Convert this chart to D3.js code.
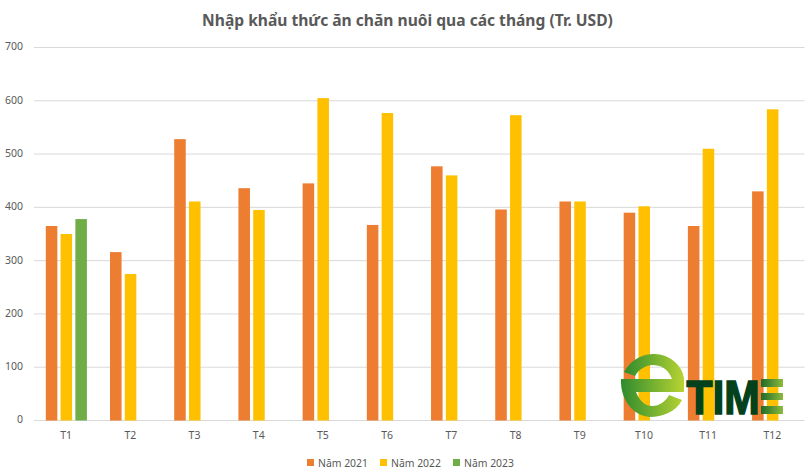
<!DOCTYPE html>
<html><head><meta charset="utf-8">
<script src="https://cdn.jsdelivr.net/npm/d3@7/dist/d3.min.js"></script>
<style>html,body{margin:0;padding:0;background:#fff}svg{display:block}text{font-family:"Noto Sans",sans-serif}</style>
</head><body><svg id="c" width="812" height="475"></svg>
<script>
const categories=["T1","T2","T3","T4","T5","T6","T7","T8","T9","T10","T11","T12"];
const seriesNames=["Năm 2021","Năm 2022","Năm 2023"];
const y2021=[365,316,528,436,445,367,477,396,411,390,365,430];
const y2022=[350,275,411,395,605,577,460,573,411,402,510,584];
const y2023=[378,null,null,null,null,null,null,null,null,null,null,null];
const colors=["#ED7D31","#FFC000","#70AD47"];
const yTicks=[0,100,200,300,400,500,600,700];
const title="Nhập khẩu thức ăn chăn nuôi qua các tháng (Tr. USD)";

const svg=d3.select("#c");
const x=d3.scaleBand().domain(categories).range([34,804.5]).paddingInner(0).paddingOuter(0);
const y=d3.scaleLinear().domain([0,700]).range([420.5,47.5]);
const inner=d3.scaleBand().domain(seriesNames).range([11.8,x.bandwidth()-11.3]).paddingInner(0.22).paddingOuter(0);

svg.append("text").attr("x",407.5).attr("y",26).attr("text-anchor","middle")
 .attr("font-size",15.6).attr("font-weight",700).attr("fill","#595959").text(title);

const yAxis=d3.axisLeft(y).tickValues(yTicks).tickSize(0).tickPadding(0);
const gy=svg.append("g").attr("transform","translate(23,-1)").call(yAxis);
gy.select(".domain").remove();
gy.selectAll("text").attr("font-size",10.5).attr("fill","#595959").style("font-family",'"Noto Sans",sans-serif');

svg.append("g").selectAll("line").data(yTicks).join("line")
 .attr("x1",34).attr("x2",804.5).attr("y1",d=>y(d)).attr("y2",d=>y(d))
 .attr("stroke","#D9D9D9").attr("stroke-width",1);

const all=[y2021,y2022,y2023];
all.forEach((vals,i)=>{
  svg.append("g").selectAll("rect").data(vals.map((v,j)=>({v,c:categories[j]})).filter(d=>d.v!=null)).join("rect")
   .attr("x",d=>x(d.c)+inner(seriesNames[i])).attr("width",inner.bandwidth())
   .attr("y",d=>y(d.v)).attr("height",d=>y(0)-y(d.v)).attr("fill",colors[i]);
});

const xAxis=d3.axisBottom(x).tickSize(0).tickPadding(0);
const gx=svg.append("g").attr("transform","translate(0,431.5)").call(xAxis);
gx.select(".domain").remove();
gx.selectAll("text").attr("font-size",10.5).attr("fill","#595959").style("font-family",'"Noto Sans",sans-serif');

const legendX=[307,380,453];
const lg=svg.append("g").selectAll("g").data(seriesNames).join("g").attr("transform",(d,i)=>`translate(${legendX[i]},459)`);
lg.append("rect").attr("width",7).attr("height",7).attr("fill",(d,i)=>colors[i]);
lg.append("text").attr("x",11).attr("y",7.5).attr("font-size",10.4).attr("fill","#595959").text(d=>d);

// Logo
const defs=svg.append("defs");
const g1=defs.append("linearGradient").attr("id","eg").attr("x1",0).attr("x2",1).attr("y1",0).attr("y2",0);
g1.append("stop").attr("offset",0).attr("stop-color","#2E8B2E");
g1.append("stop").attr("offset",1).attr("stop-color","#B8D432");
const g2=defs.append("linearGradient").attr("id","sg").attr("x1",0).attr("x2",1).attr("y1",0).attr("y2",0);
g2.append("stop").attr("offset",0).attr("stop-color","#1E6B2A");
g2.append("stop").attr("offset",1).attr("stop-color","#8DBB3C");
const logo=svg.append("g");
logo.append("path").attr("fill","url(#eg)").attr("d","M624 372 C632 358 644 354 654 354 C670 354 683 366 684 379 L672 379 C668 368 660 365 653 365 C646 365 639 369 635 376 Z");
logo.append("path").attr("fill","url(#eg)").attr("d","M621 379 L684 379 L684 392 L636 392 C640 402 646 406 652 406 C660 406 666 401 669 395 L682 400 C676 412 662 417 650 417 C632 416 620 398 621 379 Z");
logo.append("text").attr("x",686.5).attr("y",413.5).attr("font-size",48).attr("font-weight",700)
 .attr("textLength",73).attr("lengthAdjust","spacingAndGlyphs")
 .attr("fill","#03411C").attr("stroke","#03411C").attr("stroke-width",1.6)
 .style("font-family",'"Liberation Sans",sans-serif').text("TIM");
logo.selectAll("rect").data([[379,8],[393,7],[406,8]]).join("rect")
 .attr("x",761).attr("width",22).attr("y",d=>d[0]).attr("height",d=>d[1]).attr("fill","url(#sg)");
</script></body></html>
